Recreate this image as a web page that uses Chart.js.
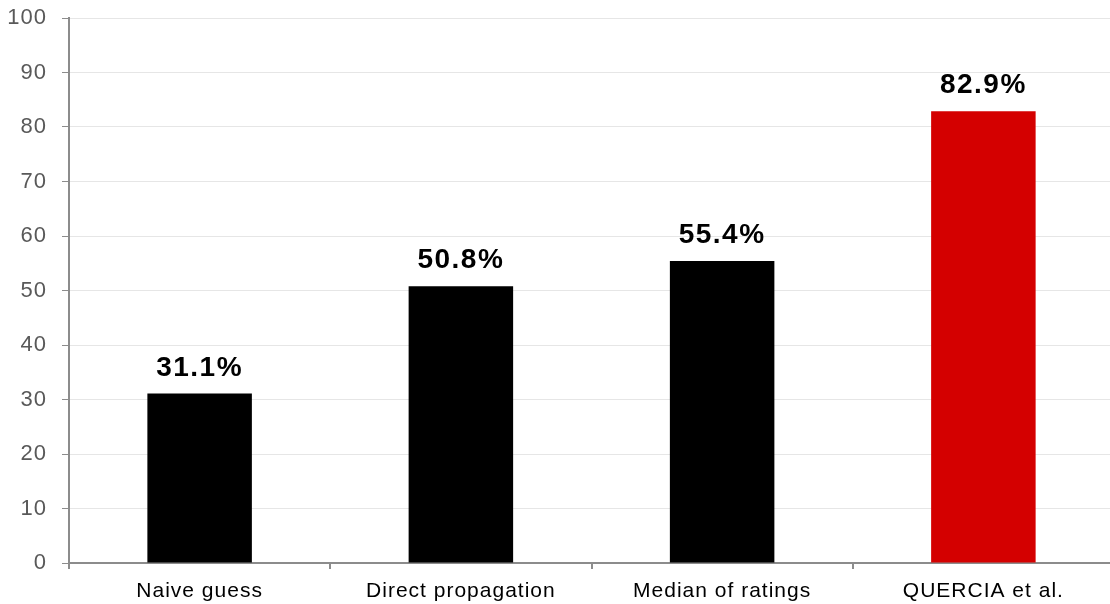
<!DOCTYPE html>
<html>
<head>
<meta charset="utf-8">
<script src="https://cdn.jsdelivr.net/npm/chart.js@4"></script>
<style>
  html, body { margin: 0; padding: 0; background: #fff; overflow: hidden; }
  #wrap { width: 1110px; height: 604px; overflow: hidden; }
</style>
</head>
<body>
<div id="wrap"><canvas id="accChart" width="1114" height="604"></canvas></div>
<script>
let categories = ["Naive guess", "Direct propagation", "Median of ratings", "QUERCIA et al."];
let accuracy = [31.1, 50.8, 55.4, 82.9];
let barColors = ["#000000", "#000000", "#000000", "#d40000"];
let yTicks = [0, 10, 20, 30, 40, 50, 60, 70, 80, 90, 100];

let fontFamily = "'Liberation Sans', Arial, sans-serif";

// slightly wider text, like the original export
let spacing = {
    id: "spacing",
    beforeInit(chart){
        chart.ctx.letterSpacing = "1px";
    },
    beforeDraw(chart){
        chart.ctx.letterSpacing = "1px";
    }
};

// draws the "xx.x%" text above each bar
let valueLabels = {
    id: "valueLabels",
    afterDatasetsDraw(chart){
        let ctx = chart.ctx;
        let meta = chart.getDatasetMeta(0);
        ctx.save();
        ctx.letterSpacing = "1.5px";
        ctx.font = "bold 28px " + fontFamily;
        ctx.fillStyle = "#000";
        ctx.textAlign = "center";
        ctx.textBaseline = "alphabetic";
        meta.data.forEach((bar, i) => {
            ctx.fillText(accuracy[i].toFixed(1) + "%", bar.x, bar.y - 18);
        });
        ctx.restore();
    }
};

let ctx = document.getElementById("accChart");

let chart = new Chart(ctx, {
    type: "bar",
    data: {
        labels: categories,
        datasets: [{
            data: accuracy,
            backgroundColor: barColors,
            categoryPercentage: 1,
            barPercentage: 0.4
        }]
    },
    options: {
        responsive: false,
        animation: false,
        layout: { padding: { top: 18, right: 0, left: 0, bottom: 0 } },
        plugins: {
            legend: { display: false },
            tooltip: { enabled: false }
        },
        scales: {
            x: {
                afterFit(axis){
                    axis.height = 41;
                    axis.paddingLeft = 0;
                    axis.paddingRight = 0;
                },
                border: { color: "#8c8c8c", width: 2 },
                grid: {
                    offset: true,
                    drawOnChartArea: false,
                    drawTicks: true,
                    tickLength: 6,
                    tickColor: "#8c8c8c",
                    lineWidth: 2
                },
                ticks: {
                    color: "#000",
                    padding: 10,
                    maxRotation: 0,
                    font: { family: fontFamily, size: 21 }
                }
            },
            y: {
                min: 0,
                max: 100,
                afterBuildTicks(axis){
                    axis.ticks = yTicks.map(v => ({ value: v }));
                },
                afterFit(axis){
                    axis.width = 69;
                    axis.paddingTop = 0;
                    axis.paddingBottom = 0;
                },
                border: { color: "#8c8c8c", width: 2 },
                grid: {
                    color: "#e6e6e6",
                    lineWidth: 1,
                    tickLength: 7,
                    tickColor: "#8c8c8c"
                },
                ticks: {
                    color: "#595959",
                    padding: 15,
                    font: { family: fontFamily, size: 22 }
                }
            }
        }
    },
    plugins: [spacing, valueLabels]
});
</script>
</body>
</html>
